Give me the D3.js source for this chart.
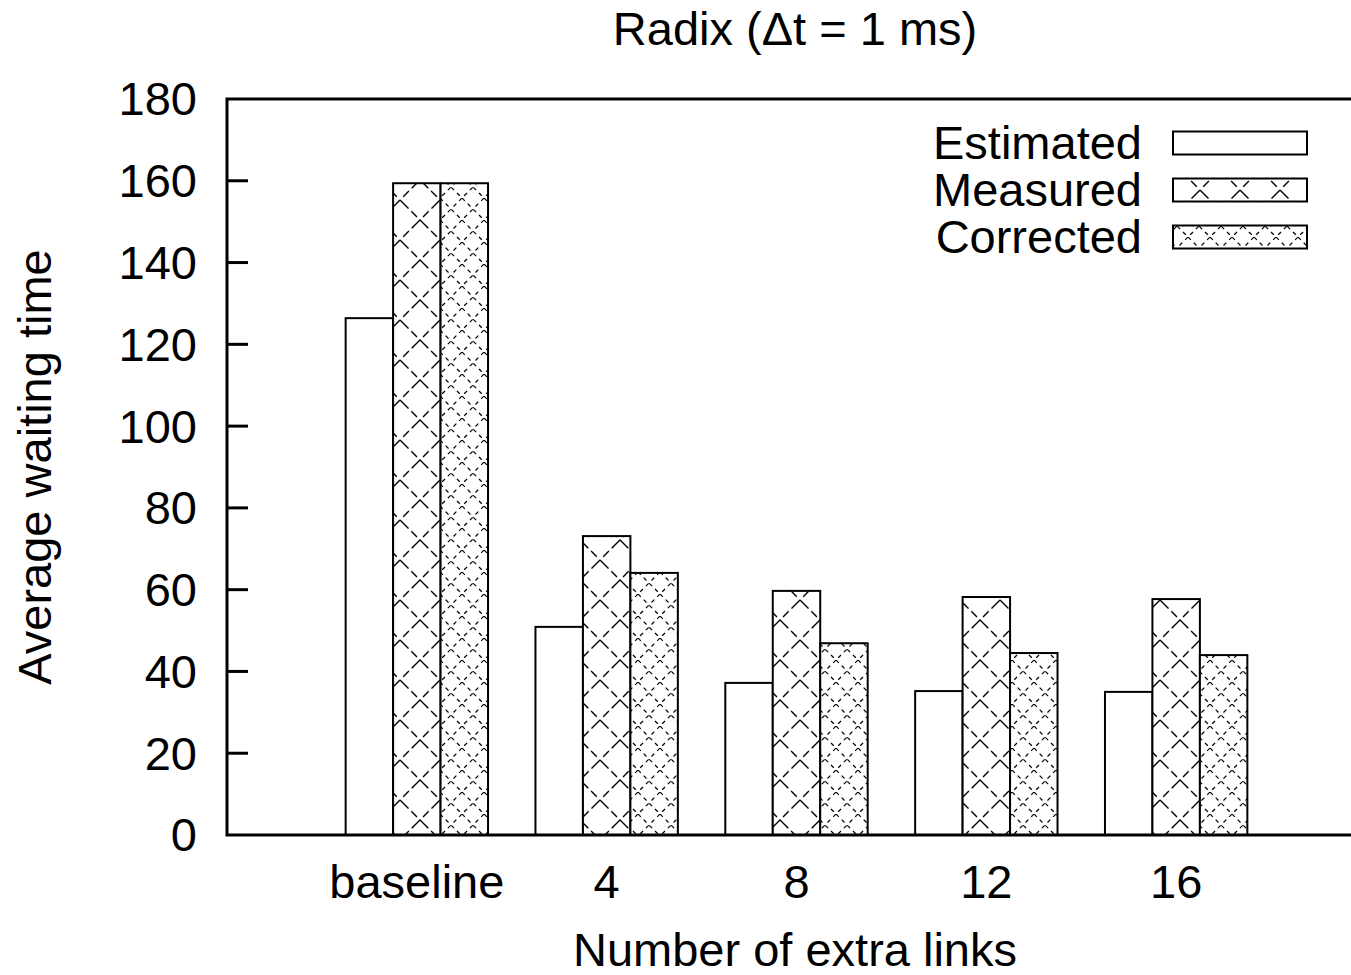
<!DOCTYPE html>
<html lang="en">
<head>
    <meta charset="UTF-8">
    <title>Radix waiting time</title>
    <script src="https://cdnjs.cloudflare.com/ajax/libs/d3/7.8.5/d3.min.js"></script>
    <style>
        body { margin: 0; background: #fff; }
        svg { display: block; }
        text { font-family: "Liberation Sans", Arial, Helvetica, sans-serif; fill: #000; }
    </style>
</head>
<body>
<svg width="1351" height="975"></svg>

<script>
    const categories = ["baseline", "4", "8", "12", "16"];
    const seriesNames = ["Estimated", "Measured", "Corrected"];
    const estimated = [126.4, 50.9, 37.2, 35.2, 35.0];
    const measured = [159.4, 73.1, 59.7, 58.2, 57.7];
    const corrected = [159.4, 64.1, 46.9, 44.5, 44.0];
    const yTicks = [0, 20, 40, 60, 80, 100, 120, 140, 160, 180];

    const series = [estimated, measured, corrected];
    const fills = ["#fff", "url(#pMeasured)", "url(#pCorrected)"];

    const svg = d3.select("svg");
    const fontSize = 47;

    // x position in group units, gnuplot style (-1 .. 5)
    const x = d3.scaleLinear().domain([-1, 5]).range([227, 1366]);
    const y = d3.scaleLinear().domain([0, 180]).range([835, 99]);
    const barW = x(0.25) - x(0);

    // fill patterns
    const defs = svg.append("defs");
    function makePattern(id, p, dash, w) {
        const pat = defs.append("pattern")
            .attr("id", id)
            .attr("patternUnits", "userSpaceOnUse")
            .attr("width", p).attr("height", p);
        pat.append("rect").attr("width", p).attr("height", p).attr("fill", "#fff");
        pat.append("path")
            .attr("d", `M0,0L${p},${p}M${p},0L0,${p}`)
            .attr("stroke", "#000")
            .attr("stroke-width", w)
            .attr("stroke-dasharray", dash)
            .attr("fill", "none");
    }
    makePattern("pMeasured", 40, "12 4 8 4", 1.4);
    makePattern("pCorrected", 22, "4 4", 1.2);

    // bars
    series.forEach((vals, s) => {
        svg.append("g")
            .selectAll("rect")
            .data(vals)
            .enter()
            .append("rect")
            .attr("x", (d, i) => x(i) + (s - 1.5) * barW)
            .attr("y", d => y(d))
            .attr("width", barW)
            .attr("height", d => y(0) - y(d))
            .attr("fill", fills[s])
            .attr("stroke", "#000")
            .attr("stroke-width", 2);
    });

    // frame
    svg.append("path")
        .attr("d", `M${x(5)},${y(180)}H${x(-1)}V${y(0)}H${x(5)}`)
        .attr("fill", "none")
        .attr("stroke", "#000")
        .attr("stroke-width", 3);

    // y ticks, pointing inward
    svg.append("g")
        .selectAll("line")
        .data(yTicks.slice(1, -1))
        .enter()
        .append("line")
        .attr("x1", x(-1)).attr("x2", x(-1) + 21)
        .attr("y1", d => y(d)).attr("y2", d => y(d))
        .attr("stroke", "#000")
        .attr("stroke-width", 3);

    svg.append("g")
        .selectAll("text")
        .data(yTicks)
        .enter()
        .append("text")
        .attr("x", 197)
        .attr("y", d => y(d))
        .attr("dy", "0.35em")
        .attr("text-anchor", "end")
        .attr("font-size", fontSize)
        .text(d => d);

    // x tick labels
    svg.append("g")
        .selectAll("text")
        .data(categories)
        .enter()
        .append("text")
        .attr("x", (d, i) => x(i))
        .attr("y", 898)
        .attr("text-anchor", "middle")
        .attr("font-size", fontSize)
        .text(d => d);

    // titles
    svg.append("text")
        .attr("x", 795).attr("y", 45)
        .attr("text-anchor", "middle")
        .attr("font-size", fontSize)
        .text("Radix (\u0394t = 1 ms)");

    svg.append("text")
        .attr("x", 795).attr("y", 966)
        .attr("text-anchor", "middle")
        .attr("font-size", fontSize)
        .text("Number of extra links");

    svg.append("text")
        .attr("transform", "translate(51,467) rotate(-90)")
        .attr("text-anchor", "middle")
        .attr("font-size", fontSize)
        .text("Average waiting time");

    // legend
    const legend = svg.append("g")
        .selectAll("g")
        .data(seriesNames)
        .enter()
        .append("g")
        .attr("transform", (d, i) => `translate(0,${143 + i * 47})`);

    legend.append("text")
        .attr("x", 1142)
        .attr("dy", "0.35em")
        .attr("text-anchor", "end")
        .attr("font-size", fontSize)
        .text(d => d);

    legend.append("rect")
        .attr("x", 1173).attr("y", -11.5)
        .attr("width", 134).attr("height", 23)
        .attr("fill", (d, i) => fills[i])
        .attr("stroke", "#000")
        .attr("stroke-width", 2);
</script>
</body>
</html>
